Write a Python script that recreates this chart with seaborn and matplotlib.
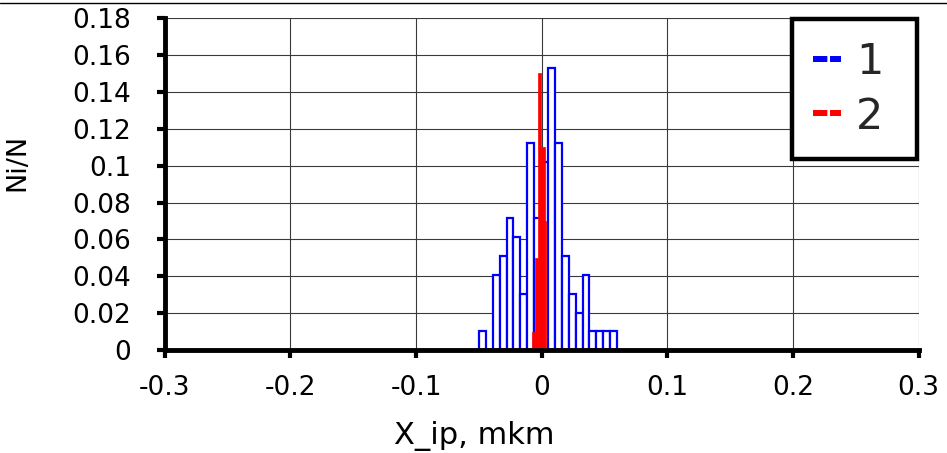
import numpy as np
import pandas as pd
import matplotlib
matplotlib.use("Agg")
import matplotlib.pyplot as plt
import seaborn as sns
from matplotlib.lines import Line2D

# ---- data ----
blue_edges = [-0.05 + 0.0055 * i for i in range(21)]
blue_vals = [0.0102, 0.0, 0.0408, 0.0510, 0.0714, 0.0612, 0.0306, 0.1122, 0.0714, 0.1020,
             0.1531, 0.1122, 0.0510, 0.0306, 0.0204, 0.0408, 0.0102, 0.0102, 0.0102, 0.0102]
red_edges = [-0.0074, -0.0050, -0.0030, -0.0002, 0.0024, 0.0037]
red_vals = [0.010, 0.050, 0.150, 0.110, 0.070]
x_ticks = [-0.3, -0.2, -0.1, 0, 0.1, 0.2, 0.3]
x_ticklabels = ["-0.3", "-0.2", "-0.1", "0", "0.1", "0.2", "0.3"]
y_ticks = [0, 0.02, 0.04, 0.06, 0.08, 0.1, 0.12, 0.14, 0.16, 0.18]
y_ticklabels = ["0", "0.02", "0.04", "0.06", "0.08", "0.1", "0.12", "0.14", "0.16", "0.18"]
series_labels = ["1", "2"]

sns.set_theme(style="white")
plt.rcParams["font.family"] = ["DejaVu Sans"]

fig = plt.figure(figsize=(9.47, 4.53), dpi=100)
ax = fig.add_axes([0.174, 0.227, 0.796, 0.733])

blue_centers = [(blue_edges[i] + blue_edges[i + 1]) / 2 for i in range(len(blue_vals))]
red_centers = [(red_edges[i] + red_edges[i + 1]) / 2 for i in range(len(red_vals))]
dfb = pd.DataFrame({"x": blue_centers, "w": blue_vals})
dfr = pd.DataFrame({"x": red_centers, "w": red_vals})

sns.histplot(data=dfb, x="x", weights="w", bins=blue_edges, ax=ax,
             color="white", edgecolor="#0000ff", linewidth=1.6, alpha=1, zorder=3)
sns.histplot(data=dfr, x="x", weights="w", bins=red_edges, ax=ax,
             color="#ff0000", edgecolor="#ff0000", linewidth=0.5, alpha=1, zorder=4)

ax.set_xlim(-0.3, 0.3)
ax.set_ylim(0, 0.18)
ax.set_xticks(x_ticks)
ax.set_xticklabels(x_ticklabels)
ax.set_yticks(y_ticks)
ax.set_yticklabels(y_ticklabels)
ax.grid(True, color="#3a3a3a", linewidth=0.8, zorder=0)
ax.set_axisbelow(True)

for s in ["top", "right"]:
    ax.spines[s].set_visible(False)
for s in ["left", "bottom"]:
    ax.spines[s].set_visible(True)
    ax.spines[s].set_color("black")
    ax.spines[s].set_linewidth(3.5)
    ax.spines[s].set_zorder(5)

ax.tick_params(axis="both", which="major", direction="out", length=6, width=3,
               color="black", labelsize=19, labelcolor="black", bottom=True, left=True)
ax.tick_params(axis="y", pad=18)
ax.tick_params(axis="x", pad=12)
ax.set_xlabel("X_ip, mkm", fontsize=22, color="black")
ax.set_ylabel("Ni/N", fontsize=19.5, color="black")
ax.xaxis.set_label_coords(0.41, -0.212)
ax.yaxis.set_label_coords(-0.178, 0.566)

handles = [Line2D([0], [0], color="#0000ff", lw=4.3, linestyle=(0, (2.4, 0.45)), dash_capstyle="butt"),
           Line2D([0], [0], color="#ff0000", lw=4.3, linestyle=(0, (2.4, 0.45)), dash_capstyle="butt")]
leg = ax.legend(handles, series_labels, loc="upper left",
                bbox_to_anchor=(0.8316, 0.0, 0.1658, 0.997), mode="expand",
                fontsize=31, frameon=True, fancybox=False, framealpha=1, edgecolor="black",
                handlelength=0.65, handletextpad=0.35, borderpad=0.5, labelspacing=0.3,
                borderaxespad=0.0)
leg.get_frame().set_linewidth(3.2)
leg.set_zorder(10)

fig.add_artist(Line2D([0, 1], [0.994, 0.994], color="black", lw=1, transform=fig.transFigure))

fig.savefig("out.png", dpi=100)
